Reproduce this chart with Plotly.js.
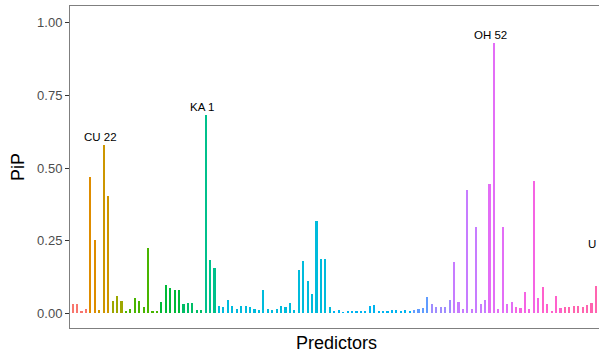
<!DOCTYPE html>
<html>
<head>
<meta charset="utf-8">
<script src="https://cdn.plot.ly/plotly-3.0.1.min.js"></script>
<style>
html, body { margin: 0; padding: 0; overflow: hidden; background: #ffffff; }
#chart { width: 608px; height: 353px; }
</style>
</head>
<body>
<div id="chart"></div>
<script>
// PiP value of each predictor, in plotting order
const pip = [
  0.032, 0.032, 0.008, 0.015, 0.470, 0.252, 0.011, 0.580, 0.405, 0.043,
  0.061, 0.043, 0.008, 0.014, 0.054, 0.041, 0.023, 0.224, 0.008, 0.009,
  0.038, 0.096, 0.088, 0.081, 0.081, 0.033, 0.036, 0.036, 0.012, 0.012,
  0.683, 0.183, 0.155, 0.025, 0.022, 0.047, 0.026, 0.016, 0.024, 0.024,
  0.023, 0.015, 0.013, 0.081, 0.015, 0.013, 0.015, 0.024, 0.022, 0.037,
  0.013, 0.148, 0.180, 0.112, 0.066, 0.317, 0.186, 0.188, 0.023, 0.009,
  0.010, 0.006, 0.007, 0.009, 0.008, 0.007, 0.009, 0.025, 0.027, 0.009,
  0.009, 0.008, 0.010, 0.010, 0.007, 0.010, 0.008, 0.013, 0.016, 0.018,
  0.056, 0.031, 0.021, 0.021, 0.021, 0.047, 0.175, 0.040, 0.015, 0.424,
  0.015, 0.298, 0.032, 0.046, 0.444, 0.931, 0.016, 0.296, 0.031, 0.038,
  0.021, 0.017, 0.074, 0.015, 0.455, 0.053, 0.089, 0.031, 0.007, 0.061,
  0.018, 0.020, 0.021, 0.025, 0.025, 0.021, 0.028, 0.036, 0.095, 0.210
];
// number of consecutive predictors in each colour group (hue palette order)
const groupSizes = [4, 0, 2, 3, 0, 3, 0, 8, 5, 5, 3, 0, 0, 26, 18, 0, 4, 5, 8, 6, 6, 5, 9, 0];
// labelled predictors
const labelIndex = [7, 30, 95, 119];
const labelText = ["CU 22", "KA 1", "OH 52", "U 1"];

// ggplot2-like hue palette (HCL, l=65, c=100)
function hcl(h, c, l) {
  const hr = h * Math.PI / 180;
  const U = c * Math.cos(hr), V = c * Math.sin(hr);
  const Xn = 95.047, Yn = 100, Zn = 108.883;
  const Y = l > 8 ? Yn * Math.pow((l + 16) / 116, 3) : Yn * l / 903.3;
  const den = Xn + 15 * Yn + 3 * Zn;
  const un = 4 * Xn / den, vn = 9 * Yn / den;
  const u = U / (13 * l) + un, v = V / (13 * l) + vn;
  const X = 9 * Y * u / (4 * v);
  const Z = 3 * Y / v - X / 3 - 5 * Y;
  const x = X / 100, y = Y / 100, z = Z / 100;
  let rgb = [
    3.240479 * x - 1.537150 * y - 0.498535 * z,
    -0.969256 * x + 1.875992 * y + 0.041556 * z,
    0.055648 * x - 0.204043 * y + 1.057311 * z
  ];
  rgb = rgb.map(function (t) {
    t = t <= 0.0031308 ? 12.92 * t : 1.055 * Math.pow(t, 1 / 2.4) - 0.055;
    return Math.round(Math.max(0, Math.min(1, t)) * 255);
  });
  return 'rgb(' + rgb.join(',') + ')';
}

const nGroups = groupSizes.length;
const colors = [];
groupSizes.forEach(function (size, g) {
  const col = hcl(15 + 360 * g / nGroups, 100, 65);
  for (let k = 0; k < size; k++) colors.push(col);
});
const xs = pip.map(function (_, i) { return i; });

const font = "Liberation Sans, Arial, Helvetica, sans-serif";

const trace = {
  type: 'bar',
  x: xs,
  y: pip,
  width: 0.48,
  marker: { color: colors, line: { width: 0 } },
  hoverinfo: 'y'
};

const annotations = labelIndex.map(function (idx, k) {
  return {
    x: idx, y: pip[idx], xref: 'x', yref: 'y',
    text: labelText[k], showarrow: false,
    yanchor: 'middle', xanchor: 'center',
    yshift: 8, xshift: -3.3,
    font: { family: font, size: 11.5, color: '#000000' }
  };
});

const layout = {
  width: 608, height: 353,
  margin: { l: 70, r: 5, t: 6, b: 25 },
  paper_bgcolor: '#ffffff', plot_bgcolor: '#ffffff',
  showlegend: false,
  bargap: 0,
  xaxis: {
    range: [-0.6, pip.length - 1 + 0.6],
    showticklabels: false, ticks: '', showgrid: false, zeroline: false,
    showline: true, linecolor: '#7f7f7f', linewidth: 1, mirror: true,
    title: { text: 'Predictors', font: { family: font, size: 18, color: '#000000' }, standoff: 10 }
  },
  yaxis: {
    range: [-0.0506, 1.0575],
    tickvals: [0, 0.25, 0.5, 0.75, 1],
    ticktext: ['0.00', '0.25', '0.50', '0.75', '1.00'],
    ticks: 'outside', ticklen: 4, tickcolor: '#333333', tickwidth: 1,
    tickfont: { family: font, size: 13, color: '#4d4d4d' },
    showgrid: false, zeroline: false,
    showline: true, linecolor: '#7f7f7f', linewidth: 1, mirror: true,
    title: { text: 'PiP', font: { family: font, size: 18, color: '#000000' } }
  },
  annotations: annotations
};

Plotly.newPlot('chart', [trace], layout, { displayModeBar: false, staticPlot: true });
</script>
</body>
</html>
